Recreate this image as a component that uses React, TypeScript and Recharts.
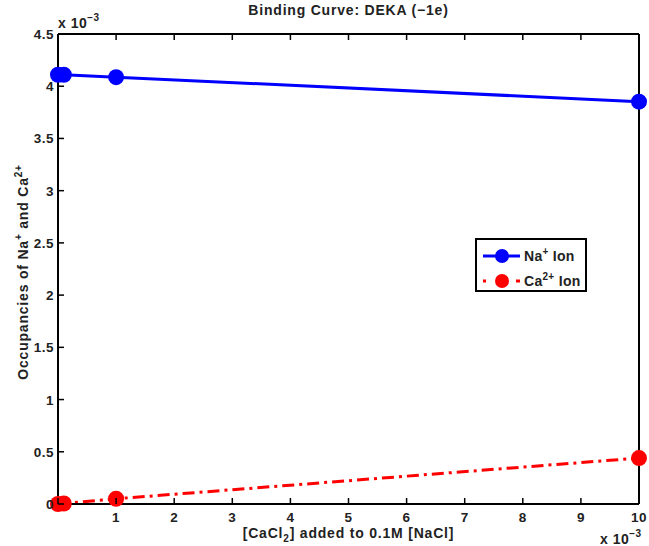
import React from "react";
import { LineChart, Line, XAxis, YAxis, Legend } from "recharts";

// MATLAB-ish palette
const BLUE = "#0000FF";
const RED = "#FF0000";
const INK = "#000000";
const FONT = "'Liberation Sans', Arial, Helvetica, sans-serif";

// values are in units of 1e-3 (axes carry the "x 10^-3" multiplier)
const cacl2 = [0, 0.1, 1, 10];
const naOcc = [4.11, 4.11, 4.087, 3.852];
const caOcc = [0, 0.005, 0.05, 0.44];

const xTicks = [0, 1, 2, 3, 4, 5, 6, 7, 8, 9, 10];
const yTicks = [0, 0.5, 1, 1.5, 2, 2.5, 3, 3.5, 4, 4.5];

const data = cacl2.map((x, i) => ({ x, na: naOcc[i], ca: caOcc[i] }));

const W = 649;
const H = 546;
// plot box: x 58..639, y 34..504 (axes are 1px thick bands)
const M = { top: 33, right: 9, bottom: 41, left: 57 };
const PLOT = { left: 58, right: 639, top: 34, bottom: 504 };
const TICK = 6;

const tickStyle = { fontFamily: FONT, fontWeight: 700, fontSize: 13.5, letterSpacing: 0.5, fill: "#222" } as const;
const labelStyle = { fontFamily: FONT, fontWeight: 700, fontSize: 14, letterSpacing: 0.8, fill: "#222" } as const;

function BottomTick({ x, y, payload }: any) {
  return (
    <g>
      <line x1={x} x2={x} y1={y} y2={y - TICK} stroke={INK} strokeWidth={1.5} />
      {payload.value !== 0 && (
        <text x={x} y={y + 18} textAnchor="middle" {...tickStyle}>
          {payload.value}
        </text>
      )}
    </g>
  );
}

function TopTick({ x, y }: any) {
  return <line x1={x} x2={x} y1={y} y2={y + TICK} stroke={INK} strokeWidth={1.5} />;
}

function LeftTick({ x, y, payload }: any) {
  return (
    <g>
      <line x1={x} x2={x + TICK} y1={y} y2={y} stroke={INK} strokeWidth={1.5} />
      <text x={x - 4} y={y + 5} textAnchor="end" {...tickStyle}>
        {payload.value}
      </text>
    </g>
  );
}

function RightTick({ x, y }: any) {
  return <line x1={x} x2={x - TICK} y1={y} y2={y} stroke={INK} strokeWidth={1.5} />;
}

function IonLegend() {
  const rows = [
    { ion: "Na", charge: "+", color: BLUE, dash: undefined as string | undefined },
    { ion: "Ca", charge: "2+", color: RED, dash: "3 30 4" },
  ];
  return (
    <div style={{ width: 108, height: 50, border: "2px solid #000", background: "#fff" }}>
      <svg width={108} height={50}>
        {rows.map((r, i) => {
          const cy = 16 + i * 25;
          return (
            <g key={r.ion}>
              <line x1={6} x2={43} y1={cy} y2={cy} stroke={r.color} strokeWidth={3} strokeDasharray={r.dash} />
              <circle cx={25} cy={cy} r={7} fill={r.color} />
              <text x={47} y={cy + 5} {...labelStyle} letterSpacing={0.3}>
                {r.ion}
                <tspan fontSize={10} dy={-6}>{r.charge}</tspan>
                <tspan dy={6}> Ion</tspan>
              </text>
            </g>
          );
        })}
      </svg>
    </div>
  );
}

const axisLine = { stroke: INK, strokeWidth: 2 };

export default function App() {
  const midX = (PLOT.left + PLOT.right) / 2;
  const midY = (PLOT.top + PLOT.bottom) / 2 + 3;
  return (
    <div style={{ position: "absolute", left: 0, top: 0, width: W, height: H, background: "#fff" }}>
      <LineChart width={W} height={H} data={data} margin={M}>
        <XAxis
          xAxisId="bottom"
          dataKey="x"
          type="number"
          domain={[0, 10]}
          ticks={xTicks}
          height={1}
          tickSize={0}
          tickMargin={0}
          tickLine={false}
          axisLine={axisLine}
          tick={<BottomTick />}
        />
        <XAxis
          xAxisId="top"
          orientation="top"
          dataKey="x"
          type="number"
          domain={[0, 10]}
          ticks={xTicks}
          height={1}
          tickSize={0}
          tickMargin={0}
          tickLine={false}
          axisLine={axisLine}
          tick={<TopTick />}
        />
        <YAxis
          yAxisId="left"
          type="number"
          domain={[0, 4.5]}
          ticks={yTicks}
          width={1}
          tickSize={0}
          tickMargin={0}
          tickLine={false}
          axisLine={axisLine}
          tick={<LeftTick />}
        />
        <YAxis
          yAxisId="right"
          orientation="right"
          type="number"
          domain={[0, 4.5]}
          ticks={yTicks}
          width={1}
          tickSize={0}
          tickMargin={0}
          tickLine={false}
          axisLine={axisLine}
          tick={<RightTick />}
        />
        <Legend
          layout="horizontal"
          verticalAlign="middle"
          align="center"
          content={() => <IonLegend />}
          wrapperStyle={{ left: 475, top: 238, width: 112, height: 54 }}
        />
        <Line
          xAxisId="bottom"
          yAxisId="left"
          dataKey="na"
          name="Na+ Ion"
          stroke={BLUE}
          strokeWidth={3}
          dot={{ r: 8, fill: BLUE, stroke: BLUE, strokeWidth: 0 }}
          isAnimationActive={false}
        />
        <Line
          xAxisId="bottom"
          yAxisId="left"
          dataKey="ca"
          name="Ca2+ Ion"
          stroke={RED}
          strokeWidth={3}
          strokeDasharray="12 5 3 5"
          dot={{ r: 8, fill: RED, stroke: RED, strokeWidth: 0 }}
          isAnimationActive={false}
        />
      </LineChart>
      <svg
        width={W}
        height={H}
        style={{ position: "absolute", left: 0, top: 0, pointerEvents: "none" }}
      >
        <text x={midX} y={15} textAnchor="middle" {...labelStyle}>
          Binding Curve: DEKA (−1e)
        </text>
        <text x={PLOT.left} y={28} {...labelStyle} letterSpacing={0.5}>
          x 10<tspan fontSize={10} dy={-7}>−3</tspan>
        </text>
        <text x={600} y={544} {...labelStyle} letterSpacing={0.5}>
          x 10<tspan fontSize={10} dy={-7}>−3</tspan>
        </text>
        <text x={midX} y={538} textAnchor="middle" {...labelStyle}>
          [CaCl<tspan fontSize={10} dy={4}>2</tspan>
          <tspan dy={-4}>] added to 0.1M [NaCl]</tspan>
        </text>
        <text
          x={28}
          y={midY}
          textAnchor="middle"
          transform={`rotate(-90, 28, ${midY})`}
          {...labelStyle}
        >
          Occupancies of Na<tspan fontSize={10} dy={-6}>+</tspan>
          <tspan dy={6}> and Ca</tspan>
          <tspan fontSize={10} dy={-6}>2+</tspan>
        </text>
      </svg>
    </div>
  );
}
